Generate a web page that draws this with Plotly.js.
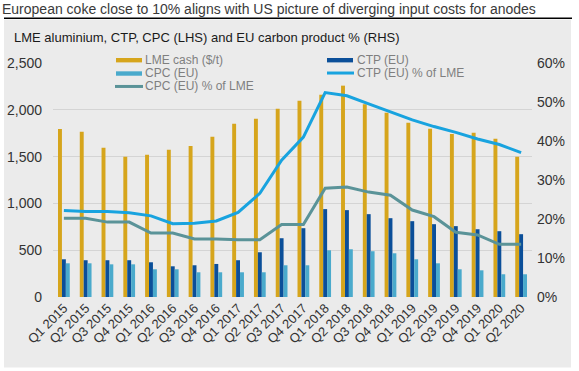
<!DOCTYPE html>
<html>
<head>
<meta charset="utf-8">
<script src="https://cdn.plot.ly/plotly-3.0.1.min.js"></script>
<style>html,body{margin:0;padding:0;background:#fff;}#chart{width:579px;height:371px;}</style>
</head>
<body>
<div id="chart"></div>
<script>
const quarters = ["Q1 2015","Q2 2015","Q3 2015","Q4 2015","Q1 2016","Q2 2016","Q3 2016","Q4 2016","Q1 2017","Q2 2017","Q3 2017","Q4 2017","Q1 2018","Q2 2018","Q3 2018","Q4 2018","Q1 2019","Q2 2019","Q3 2019","Q4 2019","Q1 2020","Q2 2020"];
const lmeCash = [1795,1766,1595,1498,1520,1573,1613,1712,1851,1905,2012,2098,2162,2258,2059,1969,1862,1798,1741,1755,1691,1498];
const ctpEU = [403,393,393,393,371,328,339,353,393,478,628,735,939,928,885,842,810,778,757,724,703,671];
const cpcEU = [360,360,349,349,296,296,264,264,264,264,339,339,499,510,489,467,403,360,296,285,243,243];
const ctpPct = [22.2,21.9,21.9,21.6,20.8,18.8,18.9,19.5,21.7,26.6,35.1,41.0,52.4,51.6,49.5,47.5,45.4,43.7,42.2,40.5,39.1,37.0];
const cpcPct = [20.2,20.2,19.2,19.2,16.4,16.4,14.9,14.9,14.7,14.7,18.6,18.6,27.9,28.2,26.9,26.1,22.3,20.6,16.6,15.9,13.5,13.5];
const leftTicks = [0,500,1000,1500,2000,2500];
const rightTicks = [0,10,20,30,40,50,60];
const names = {lme:"LME cash ($/t)", ctp:"CTP (EU)", cpc:"CPC (EU)", ctpPct:"CTP (EU) % of LME", cpcPct:"CPC (EU) % of LME"};
const colors = {lme:"#d6a51c", ctp:"#0b4f99", cpc:"#4aaacc", ctpPct:"#18a3df", cpcPct:"#5a9398"};

const W = 579, H = 371;
const M = {l:53, r:47, t:63.3, b:74.3};
const pw = W - M.l - M.r, ph = H - M.t - M.b;
const px = x => (x - M.l) / pw;
const py = y => (H - M.b - y) / ph;

const traces = [
  {type:"bar", name:names.lme, x:quarters, y:lmeCash, marker:{color:colors.lme}, showlegend:false, hoverinfo:"skip"},
  {type:"bar", name:names.ctp, x:quarters, y:ctpEU, marker:{color:colors.ctp}, showlegend:false, hoverinfo:"skip"},
  {type:"bar", name:names.cpc, x:quarters, y:cpcEU, marker:{color:colors.cpc}, showlegend:false, hoverinfo:"skip"},
  {type:"scatter", mode:"lines", name:names.ctpPct, x:quarters, y:ctpPct, yaxis:"y2", line:{color:colors.ctpPct, width:3}, showlegend:false, hoverinfo:"skip"},
  {type:"scatter", mode:"lines", name:names.cpcPct, x:quarters, y:cpcPct, yaxis:"y2", line:{color:colors.cpcPct, width:3}, showlegend:false, hoverinfo:"skip"}
];

const shapes = [
  {type:"rect", xref:"paper", yref:"paper", x0:px(4), x1:px(571), y0:py(367), y1:py(20), fillcolor:"#ebebeb", line:{width:0}, layer:"below"},
  {type:"line", xref:"paper", yref:"paper", x0:px(4), x1:px(572), y0:py(18.7), y1:py(18.7), line:{color:"#000", width:1.5}},
  // legend swatches
  {type:"rect", xref:"paper", yref:"paper", x0:px(116), x1:px(142), y0:py(62.7), y1:py(58.3), fillcolor:colors.lme, line:{width:0}},
  {type:"rect", xref:"paper", yref:"paper", x0:px(116), x1:px(142), y0:py(76), y1:py(71.6), fillcolor:colors.cpc, line:{width:0}},
  {type:"line", xref:"paper", yref:"paper", x0:px(115), x1:px(143), y0:py(86.7), y1:py(86.7), line:{color:colors.cpcPct, width:3}},
  {type:"rect", xref:"paper", yref:"paper", x0:px(327), x1:px(353), y0:py(62.7), y1:py(58.3), fillcolor:colors.ctp, line:{width:0}},
  {type:"line", xref:"paper", yref:"paper", x0:px(327), x1:px(354), y0:py(73.3), y1:py(73.3), line:{color:colors.ctpPct, width:3}}
];

const legFont = {family:"Liberation Sans, Arial, sans-serif", size:12, color:"#7f7f7f"};
const ann = (t, x, y) => ({text:t, xref:"paper", yref:"paper", x:px(x), y:py(y), xanchor:"left", yanchor:"middle", showarrow:false, font:legFont});
const annotations = [
  {text:"LME aluminium, CTP, CPC (LHS) and EU carbon product % (RHS)", xref:"paper", yref:"paper", x:px(12), y:py(38), xanchor:"left", yanchor:"middle", showarrow:false, font:{family:"Liberation Sans, Arial, sans-serif", size:13, color:"#1a1a1a"}},
  ann(names.lme, 143, 60.5),
  ann(names.cpc, 143, 72.8),
  ann(names.cpcPct, 143, 86.5),
  ann(names.ctp, 355, 60.5),
  ann(names.ctpPct, 355, 72.8)
];

const tickFont = {family:"Liberation Sans, Arial, sans-serif", size:14, color:"#333"};
const layout = {
  width:W, height:H,
  margin:M,
  paper_bgcolor:"#ffffff",
  plot_bgcolor:"rgba(0,0,0,0)",
  showlegend:false,
  barmode:"group",
  bargap:0.46,
  bargroupgap:0,
  title:{text:"European coke close to 10% aligns with US picture of diverging input costs for anodes", xref:"container", yref:"container", x:2/W, xanchor:"left", y:1-9/H, yanchor:"middle", font:{family:"Liberation Sans, Arial, sans-serif", size:14, color:"#3a3a3a"}},
  xaxis:{type:"category", tickangle:-45, tickfont:{family:"Liberation Sans, Arial, sans-serif", size:13, color:"#333"}, showgrid:false, showline:false, ticks:"", zeroline:false},
  yaxis:{range:[0,2500], tickvals:leftTicks, ticktext:leftTicks.map(v=>v.toLocaleString("en-US")), tickfont:tickFont, gridcolor:"#d4d4d4", gridwidth:1, zeroline:false, showline:false, ticks:"", ticklabelstandoff:10},
  yaxis2:{range:[0,60], overlaying:"y", side:"right", tickvals:rightTicks, ticktext:rightTicks.map(v=>v+"%"), tickfont:tickFont, showgrid:false, zeroline:false, showline:false, ticks:"", ticklabelstandoff:4},
  shapes:shapes,
  annotations:annotations
};

Plotly.newPlot("chart", traces, layout, {staticPlot:true, displayModeBar:false});
</script>
</body>
</html>
